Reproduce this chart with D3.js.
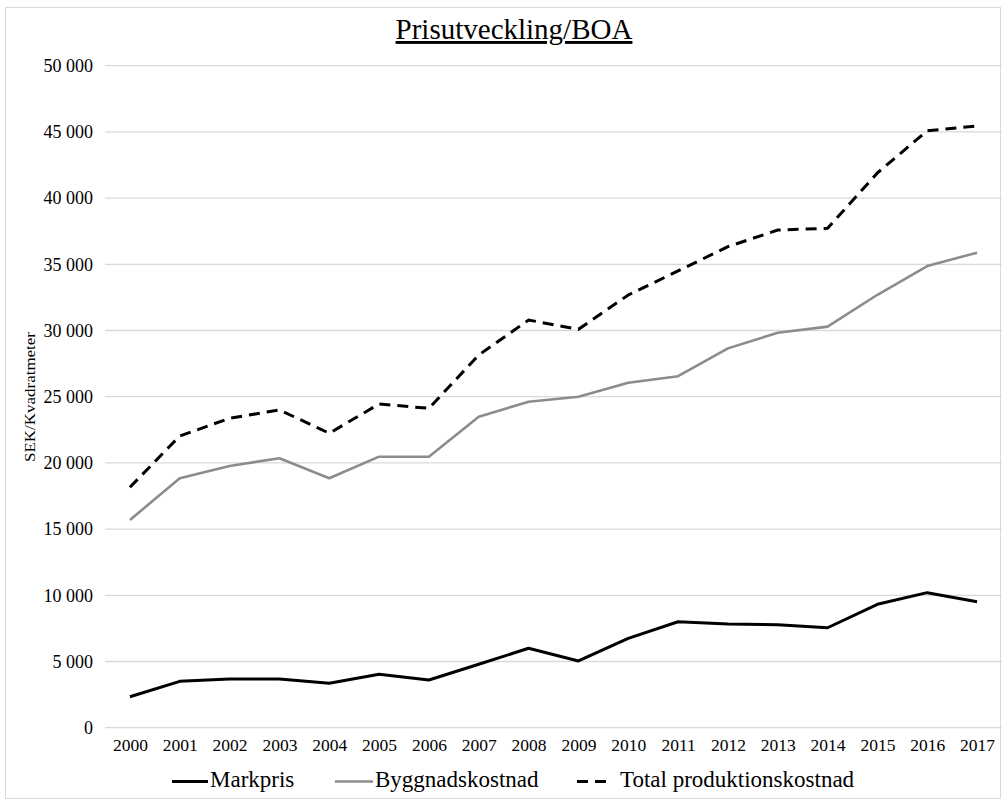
<!DOCTYPE html>
<html>
<head>
<meta charset="utf-8">
<script src="https://cdn.jsdelivr.net/npm/d3@7"></script>
<style>
  html, body { margin: 0; padding: 0; background: #fff; }
  svg { display: block; }
  text { font-family: "Liberation Serif", "Times New Roman", serif; fill: #000; }
</style>
</head>
<body>
<svg id="chart" width="1007" height="800"></svg>
<script>
const years = ["2000","2001","2002","2003","2004","2005","2006","2007","2008","2009","2010","2011","2012","2013","2014","2015","2016","2017"];
const markpris = [2340, 3500, 3680, 3680, 3350, 4030, 3600, 4790, 6000, 5040, 6750, 8000, 7830, 7780, 7550, 9320, 10200, 9520];
const byggnadskostnad = [15690, 18840, 19770, 20350, 18840, 20470, 20470, 23490, 24620, 25000, 26060, 26550, 28650, 29830, 30290, 32700, 34870, 35880];
const totalProduktionskostnad = [18160, 22030, 23370, 24000, 22240, 24450, 24120, 28150, 30790, 30090, 32680, 34500, 36330, 37590, 37720, 41900, 45090, 45450];
const yTicks = [0, 5000, 10000, 15000, 20000, 25000, 30000, 35000, 40000, 45000, 50000];
const seriesNames = ["Markpris", "Byggnadskostnad", "Total produktionskostnad"];
const title = "Prisutveckling/BOA";
const yLabel = "SEK/Kvadratmeter";

const svg = d3.select("#chart");

// outer frame
svg.append("rect")
  .attr("x", 5.5).attr("y", 7.5).attr("width", 995).attr("height", 791)
  .attr("fill", "#fff").attr("stroke", "#d9d9d9").attr("stroke-width", 1);

const x = d3.scalePoint().domain(years).range([105, 1002]).padding(0.5);
const y = d3.scaleLinear().domain([0, 50000]).range([727.7, 65.7]);

// gridlines
svg.append("g").selectAll("line").data(yTicks).join("line")
  .attr("x1", 105).attr("x2", 1002)
  .attr("y1", d => y(d)).attr("y2", d => y(d))
  .attr("stroke", "#d9d9d9").attr("stroke-width", 1.3);

// y axis labels
const fmt = d => d === 0 ? "0" : d3.format(",")(d).replace(/,/g, " ");
const yAxis = d3.axisLeft(y).tickValues(yTicks).tickSize(0).tickPadding(0).tickFormat(fmt);
const gy = svg.append("g").attr("transform", "translate(93,0)").call(yAxis);
gy.select(".domain").remove();
gy.selectAll("text").attr("font-size", 18).attr("font-family", "Liberation Serif").attr("fill", "#1a1a1a").attr("dy", "0.32em");

// x axis labels
const xAxis = d3.axisBottom(x).tickSize(0).tickPadding(0);
const gx = svg.append("g").attr("transform", "translate(0,739)").call(xAxis);
gx.select(".domain").remove();
gx.selectAll("text").attr("font-size", 17.5).attr("font-family", "Liberation Serif").attr("fill", "#1a1a1a").attr("dy", "0.71em");

// lines
const line = d3.line().x((d, i) => x(years[i])).y(d => y(d));
svg.append("path").datum(byggnadskostnad).attr("d", line)
  .attr("fill", "none").attr("stroke", "#8c8c8c").attr("stroke-width", 2.6).attr("stroke-linejoin", "round");
svg.append("path").datum(totalProduktionskostnad).attr("d", line)
  .attr("fill", "none").attr("stroke", "#000").attr("stroke-width", 3).attr("stroke-dasharray", "11,7");
svg.append("path").datum(markpris).attr("d", line)
  .attr("fill", "none").attr("stroke", "#000").attr("stroke-width", 3).attr("stroke-linejoin", "round");

// title
svg.append("text").attr("x", 514).attr("y", 39).attr("text-anchor", "middle")
  .attr("font-size", 29).attr("text-decoration", "underline").text(title);

// y label
svg.append("text").attr("transform", "translate(35,397) rotate(-90)")
  .attr("text-anchor", "middle").attr("font-size", 14)
  .attr("textLength", 130).attr("lengthAdjust", "spacingAndGlyphs").text(yLabel);

// legend
const legend = [
  {name: seriesNames[0], x1: 172, x2: 208, tx: 210, color: "#000", dash: null, w: 3},
  {name: seriesNames[1], x1: 335, x2: 373, tx: 375, color: "#8c8c8c", dash: null, w: 2.6},
  {name: seriesNames[2], x1: 577, x2: 608, tx: 620, color: "#000", dash: "11,7", w: 3}
];
const lg = svg.append("g");
legend.forEach(l => {
  lg.append("line").attr("x1", l.x1).attr("x2", l.x2).attr("y1", 781.5).attr("y2", 781.5)
    .attr("stroke", l.color).attr("stroke-width", l.w).attr("stroke-dasharray", l.dash);
  lg.append("text").attr("x", l.tx).attr("y", 787).attr("font-size", 23).text(l.name);
});
</script>
</body>
</html>
